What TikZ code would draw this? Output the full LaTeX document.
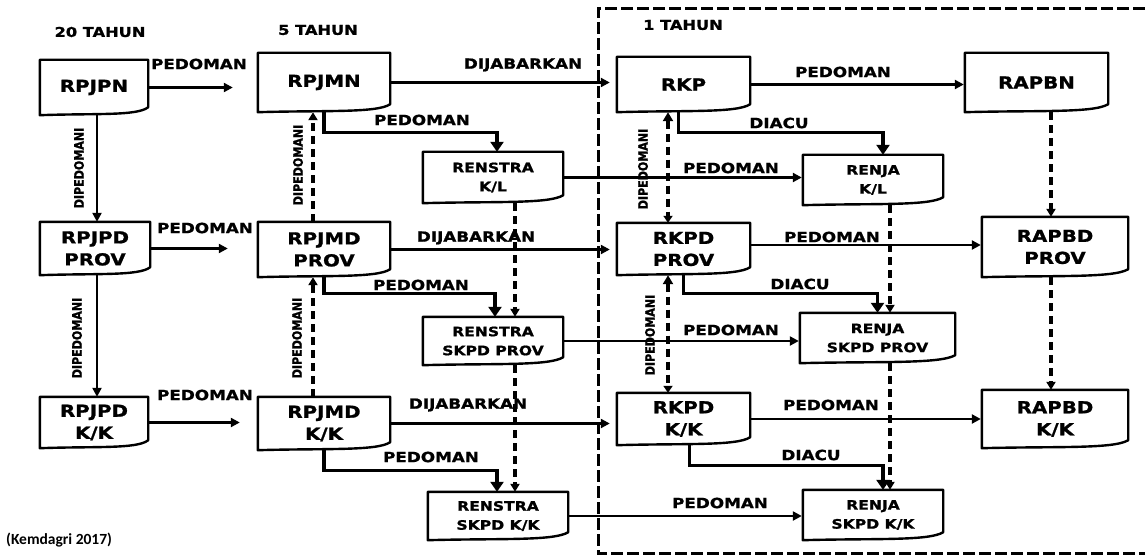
\documentclass[tikz,border=0pt]{standalone}
\usepackage{fontspec}
\setmainfont{DejaVu Sans}[FakeStretch=1.2, BoldFeatures={FakeBold=1.2}]
\newfontfamily\vfont{DejaVu Sans}[FakeStretch=0.85, BoldFeatures={FakeBold=1.2}]
\newfontfamily\capfont{Carlito}
\usetikzlibrary{arrows.meta,calc}
\begin{document}
\begin{tikzpicture}[x=1pt,y=-1pt,
 boxline/.style={line width=2.4pt, line join=round},
 bigbox/.style={inner sep=0pt, align=center, font=\fontsize{16.5}{22}\selectfont\bfseries},
 smallbox/.style={inner sep=0pt, align=center, font=\fontsize{13}{19}\selectfont\bfseries},
 lbl/.style={inner sep=0pt, font=\fontsize{14}{16}\selectfont\bfseries},
 vlbl/.style={inner sep=0pt, rotate=90, font=\vfont\fontsize{13}{15}\selectfont\bfseries},
 hdr/.style={inner sep=0pt, font=\fontsize{13.5}{16}\selectfont\bfseries},
 arr/.style={line width=2.5pt, -{Triangle[length=9pt,width=9pt]}},
 elb/.style={line width=3.2pt, -{Triangle[length=10pt,width=13pt]}},
 darr/.style={line width=3.2pt, dash pattern=on 8pt off 5pt, -{Triangle[length=8pt,width=9pt]}},
 ddarr/.style={line width=3.2pt, dash pattern=on 8pt off 5pt, {Triangle[length=9pt,width=10pt]}-{Triangle[length=7pt,width=9pt]}},
 frame/.style={line width=3pt, dash pattern=on 12pt off 4pt},
]
\useasboundingbox (0,0) rectangle (1145,556);

% headers
\node[hdr] (h20) at (100,32) {20 TAHUN};
\node[hdr] (h5) at (318,30) {5 TAHUN};
\node[hdr] (h1) at (683,25) {1 TAHUN};
\node[anchor=west, inner sep=0pt, font=\capfont\fontsize{15.5}{17}\selectfont\bfseries] (src) at (6,540) {(Kemdagri 2017)};

% frame
\draw[frame] (1145,9) -- (598,9) -- (598,553) -- (1145,553);

% boxes
\node[bigbox, minimum width=108pt, minimum height=55pt] (rpjpn) at (94,87.5) {RPJPN};
\node[bigbox, minimum width=132pt, minimum height=59pt] (rpjmn) at (324,82.5) {RPJMN};
\node[bigbox, minimum width=133pt, minimum height=55pt] (rkp) at (683.5,84.5) {RKP};
\node[bigbox, minimum width=143pt, minimum height=59pt] (rapbn) at (1036.5,82.5) {RAPBN};
\node[smallbox, minimum width=140pt, minimum height=51pt] (renstrakl) at (493,177.5) {RENSTRA\\K/L};
\node[smallbox, minimum width=140pt, minimum height=50pt] (renjakl) at (873,180) {RENJA\\K/L};
\node[bigbox, minimum width=110pt, minimum height=53pt] (rpjpdprov) at (95,248.5) {RPJPD\\PROV};
\node[bigbox, minimum width=132pt, minimum height=55pt] (rpjmdprov) at (324,249.5) {RPJMD\\PROV};
\node[bigbox, minimum width=133pt, minimum height=52pt] (rkpdprov) at (683.5,249) {RKPD\\PROV};
\node[bigbox, minimum width=146pt, minimum height=60pt] (rapbdprov) at (1055,247) {RAPBD\\PROV};
\node[smallbox, minimum width=140pt, minimum height=48pt] (renstraprov) at (493,341) {RENSTRA\\SKPD PROV};
\node[smallbox, minimum width=155pt, minimum height=50pt] (renjaprov) at (877.5,338) {RENJA\\SKPD PROV};
\node[bigbox, minimum width=108pt, minimum height=51pt] (rpjpdkk) at (94,422.5) {RPJPD\\K/K};
\node[bigbox, minimum width=132pt, minimum height=53pt] (rpjmdkk) at (324,423.5) {RPJMD\\K/K};
\node[bigbox, minimum width=133pt, minimum height=52pt] (rkpdkk) at (683.5,419) {RKPD\\K/K};
\node[bigbox, minimum width=146pt, minimum height=58pt] (rapbdkk) at (1055,419) {RAPBD\\K/K};
\node[smallbox, minimum width=140pt, minimum height=48pt] (renstrakk) at (498,516) {RENSTRA\\SKPD K/K};
\node[smallbox, minimum width=140pt, minimum height=50pt] (renjakk) at (873,515) {RENJA\\SKPD K/K};

\foreach \bx in {rpjpn,rpjmn,rkp,rapbn,renstrakl,renjakl,rpjpdprov,rpjmdprov,rkpdprov,rapbdprov,renstraprov,renjaprov,rpjpdkk,rpjmdkk,rkpdkk,rapbdkk,renstrakk,renjakk}
  \draw[boxline] let \p1=(\bx.south west), \p2=(\bx.north east) in
    (\x1,\y2) -- (\x2,\y2) -- (\x2,\y1+8pt)
    .. controls ({\x2-0.1*\x2+0.1*\x1},{\y1-1pt}) and ({\x1+0.5*\x2-0.5*\x1},{\y1+2pt}) .. (\x1,\y1) -- cycle;

% horizontal solid connectors
\draw[arr, shorten >=25pt] (rpjpn.east) -- (rpjpn.east -| rpjmn.west);
\draw[arr, shorten >=7pt] (rpjmn.east) -- (rpjmn.east -| rkp.west);
\draw[arr, shorten >=1pt] (rkp.east) -- (rkp.east -| rapbn.west);
\draw[arr, shorten >=30pt] (rpjpdprov.east) -- (rpjpdprov.east -| rpjmdprov.west);
\draw[arr, shorten >=7pt] (rpjmdprov.east) -- (rpjmdprov.east -| rkpdprov.west);
\draw[arr, shorten >=1pt] ([yshift=4pt]rkpdprov.east) -- ([yshift=4pt]rkpdprov.east -| rapbdprov.west);
\draw[arr, shorten >=18pt] (rpjpdkk.east) -- (rpjpdkk.east -| rpjmdkk.west);
\draw[arr, shorten >=7pt] (rpjmdkk.east) -- (rpjmdkk.east -| rkpdkk.west);
\draw[arr, shorten >=1pt] (rkpdkk.east) -- (rkpdkk.east -| rapbdkk.west);
\draw[arr, shorten >=1pt] (renstrakl.east) -- (renstrakl.east -| renjakl.west);
\draw[arr, shorten >=1pt] (renstraprov.east) -- (renstraprov.east -| renjaprov.west);
\draw[arr, shorten >=1pt] (renstrakk.east) -- (renstrakk.east -| renjakk.west);

% vertical solid
\draw[arr] ([xshift=3pt]rpjpn.south) -- ([xshift=3pt]rpjpn.south |- rpjpdprov.north);
\draw[arr] ([xshift=2pt]rpjpdprov.south) -- ([xshift=2pt]rpjpdprov.south |- rpjpdkk.north);

% elbows
\draw[elb] (rpjmn.south) -- ++(0,20) -| ([xshift=4pt]renstrakl.north);
\draw[elb] (rpjmdprov.south) -- ++(0,16) -| ([xshift=2pt]renstraprov.north);
\draw[elb] (rpjmdkk.south) -- ++(0,20) -| ([xshift=-1pt]renstrakk.north);
\draw[elb] ([xshift=-5pt]rkp.south) -- ++(0,20) -| ([xshift=10pt]renjakl.north);
\draw[elb] (rkpdprov.south) -- ++(0,18) -| (renjaprov.north);
\draw[elb] ([xshift=6pt]rkpdkk.south) -- ++(0,20) -| ([xshift=10pt]renjakk.north);

% dashed verticals
\draw[darr] ([xshift=-11pt]rpjmdprov.north) -- ([xshift=-11pt]rpjmdprov.north |- rpjmn.south);
\draw[darr] ([xshift=-11pt]rpjmdkk.north) -- ([xshift=-11pt]rpjmdkk.north |- rpjmdprov.south);
\draw[ddarr] ([xshift=-15.5pt]rkp.south) -- ([xshift=-15.5pt]rkp.south |- rkpdprov.north);
\draw[ddarr] ([xshift=-15.5pt]rkpdprov.south) -- ([xshift=-15.5pt]rkpdprov.south |- rkpdkk.north);
\coordinate (vr) at (515,0);
\coordinate (vj) at (890,0);
\coordinate (va) at (1051,0);
\draw[darr] (renstrakl.south -| vr) -- (renstraprov.north -| vr);
\draw[darr] (renstraprov.south -| vr) -- (renstrakk.north -| vr);
\draw[darr] (renjakl.south -| vj) -- (renjaprov.north -| vj);
\draw[darr] (renjaprov.south -| vj) -- (renjakk.north -| vj);
\draw[darr] (rapbn.south -| va) -- (rapbdprov.north -| va);
\draw[darr] (rapbdprov.south -| va) -- (rapbdkk.north -| va);

% labels
\node[lbl] (l1) at (199,64) {PEDOMAN};
\node[lbl] (l2) at (523,65) {DIJABARKAN};
\node[lbl] (l3) at (843,72) {PEDOMAN};
\node[lbl] (l4) at (205,228) {PEDOMAN};
\node[lbl] (l5) at (205,395) {PEDOMAN};
\node[lbl] (l6) at (476,238) {DIJABARKAN};
\node[lbl] (l7) at (468,405) {DIJABARKAN};
\node[lbl] (l8) at (832,237) {PEDOMAN};
\node[lbl] (l9) at (831,405) {PEDOMAN};
\node[lbl] (l10) at (422,120) {PEDOMAN};
\node[lbl] (l11) at (421,285) {PEDOMAN};
\node[lbl] (l12) at (431,457) {PEDOMAN};
\node[lbl] (l13) at (779,123) {DIACU};
\node[lbl] (l14) at (800,284) {DIACU};
\node[lbl] (l15) at (811,455) {DIACU};
\node[lbl] (l16) at (731,168) {PEDOMAN};
\node[lbl] (l17) at (731,330) {PEDOMAN};
\node[lbl] (l18) at (720,503) {PEDOMAN};
\node[vlbl] (v1) at (79,168) {DIPEDOMANI};
\node[vlbl] (v2) at (77,338) {DIPEDOMANI};
\node[vlbl] (v3) at (298,165) {DIPEDOMANI};
\node[vlbl] (v4) at (297,338) {DIPEDOMANI};
\node[vlbl] (v5) at (643,169) {DIPEDOMANI};
\node[vlbl] (v6) at (650,335) {DIPEDOMANI};
\end{tikzpicture}
\end{document}
